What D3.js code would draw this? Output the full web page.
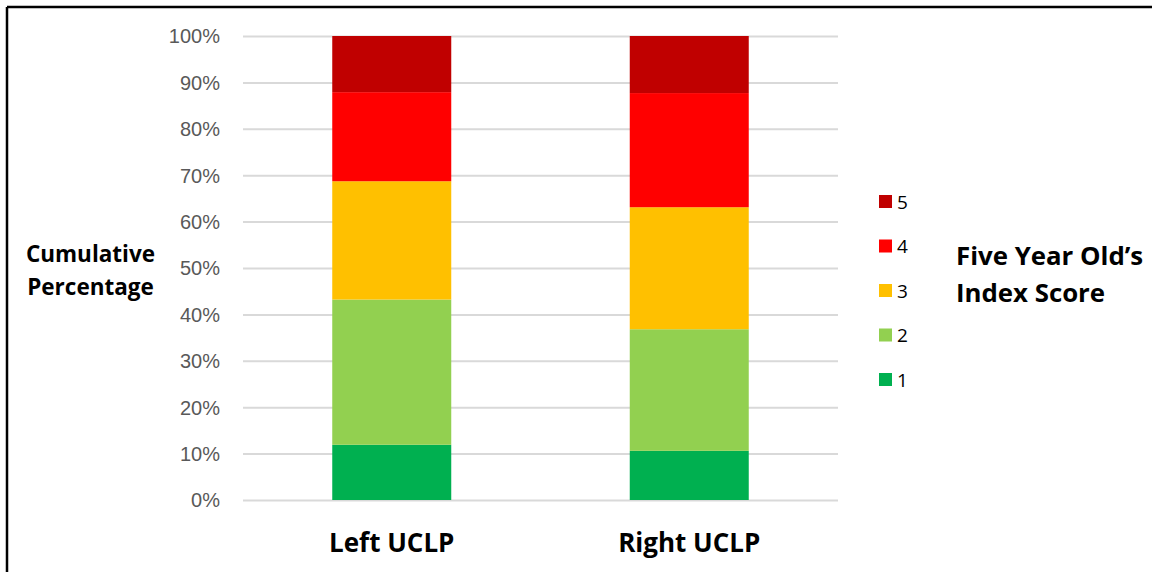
<!DOCTYPE html>
<html>
<head>
<meta charset="utf-8">
<script src="https://cdn.jsdelivr.net/npm/d3@7"></script>
<style>
  body { margin: 0; background: #fff; }
  svg { display: block; font-family: "Open Sans", Lato, sans-serif; }
</style>
</head>
<body>
<div id="chart"></div>
<script>
// Data (percent of each group per index score)
const groups = ["Left UCLP", "Right UCLP"]
const scores = ["1", "2", "3", "4", "5"]
const leftValues = [11.9, 31.3, 25.5, 19.2, 12.1]
const rightValues = [10.6, 26.2, 26.3, 24.6, 12.3]
const tickValues = [0, 10, 20, 30, 40, 50, 60, 70, 80, 90, 100]
const scoreColours = ["#00B050", "#92D050", "#FFC000", "#FF0000", "#C00000"]

const width = 1152, height = 572
const svg = d3.select("#chart").append("svg")
    .attr("width", width).attr("height", height)

// frame: only the top and left edges show in the picture
svg.append("line").attr("x1", 7).attr("x2", width).attr("y1", 7).attr("y2", 7)
    .attr("stroke", "#000").attr("stroke-width", 2.5)
svg.append("line").attr("x1", 7).attr("x2", 7).attr("y1", 7).attr("y2", height)
    .attr("stroke", "#000").attr("stroke-width", 2.5)

// build rows for stacking
const rows = groups.map((g, i) => {
    const vals = i == 0 ? leftValues : rightValues
    const row = { group: g }
    scores.forEach((s, j) => row[s] = vals[j])
    return row
})
const series = d3.stack().keys(scores)(rows)

const plot = { left: 243, right: 838, top: 36, bottom: 500 }

const xScale = d3.scaleBand().domain(groups)
    .range([plot.left, plot.right]).paddingInner(0.6).paddingOuter(0.3)
const yScale = d3.scaleLinear().domain([0, 100]).range([plot.bottom, plot.top])
const colourScale = d3.scaleOrdinal().domain(scores).range(scoreColours)

// gridlines + tick labels
const yAxis = svg.append("g")
    .attr("transform", `translate(${plot.left},0)`)
    .call(d3.axisLeft(yScale).tickValues(tickValues)
        .tickSize(-(plot.right - plot.left)).tickPadding(23)
        .tickFormat(d => d + "%"))
yAxis.select(".domain").remove()
yAxis.selectAll(".tick line").attr("stroke", "#D9D9D9").attr("stroke-width", 2)
yAxis.selectAll(".tick text").attr("fill", "#595959")
    .style("font-size", "20px").attr("dy", "0.34em")

// stacked bars
svg.append("g").selectAll("g")
    .data(series)
    .join("g")
    .attr("fill", d => colourScale(d.key))
    .selectAll("rect")
    .data(d => d)
    .join("rect")
    .attr("x", d => xScale(d.data.group))
    .attr("width", xScale.bandwidth())
    .attr("y", d => yScale(d[1]))
    .attr("height", d => yScale(d[0]) - yScale(d[1]))

// category labels
svg.append("g").selectAll("text")
    .data(groups)
    .join("text")
    .attr("x", d => xScale(d) + xScale.bandwidth() / 2)
    .attr("y", 552)
    .attr("text-anchor", "middle")
    .style("font-size", "26px").style("font-weight", "bold")
    .text(d => d)

// y axis title
svg.append("text")
    .attr("x", 90.5).attr("y", 262)
    .attr("text-anchor", "middle")
    .style("font-size", "22.5px").style("font-weight", "bold")
    .selectAll("tspan")
    .data(["Cumulative", "Percentage"])
    .join("tspan")
    .attr("x", 90.5).attr("dy", (d, i) => i == 0 ? 0 : 33)
    .text(d => d)

// legend, top entry is score 5
const legend = svg.append("g").selectAll("g")
    .data(scores.slice().reverse())
    .join("g")
    .attr("transform", (d, i) => `translate(879,${202 + i * 44.5})`)
legend.append("rect")
    .attr("y", -7).attr("width", 13).attr("height", 13)
    .attr("fill", d => colourScale(d))
legend.append("text")
    .attr("x", 18).attr("dy", "0.36em")
    .style("font-size", "19px")
    .text(d => d)

// legend title
svg.append("text")
    .attr("x", 956).attr("y", 265)
    .style("font-size", "25.8px").style("font-weight", "bold")
    .selectAll("tspan")
    .data(["Five Year Old’s", "Index Score"])
    .join("tspan")
    .attr("x", 956).attr("dy", (d, i) => i == 0 ? 0 : 37)
    .text(d => d)
</script>
</body>
</html>
